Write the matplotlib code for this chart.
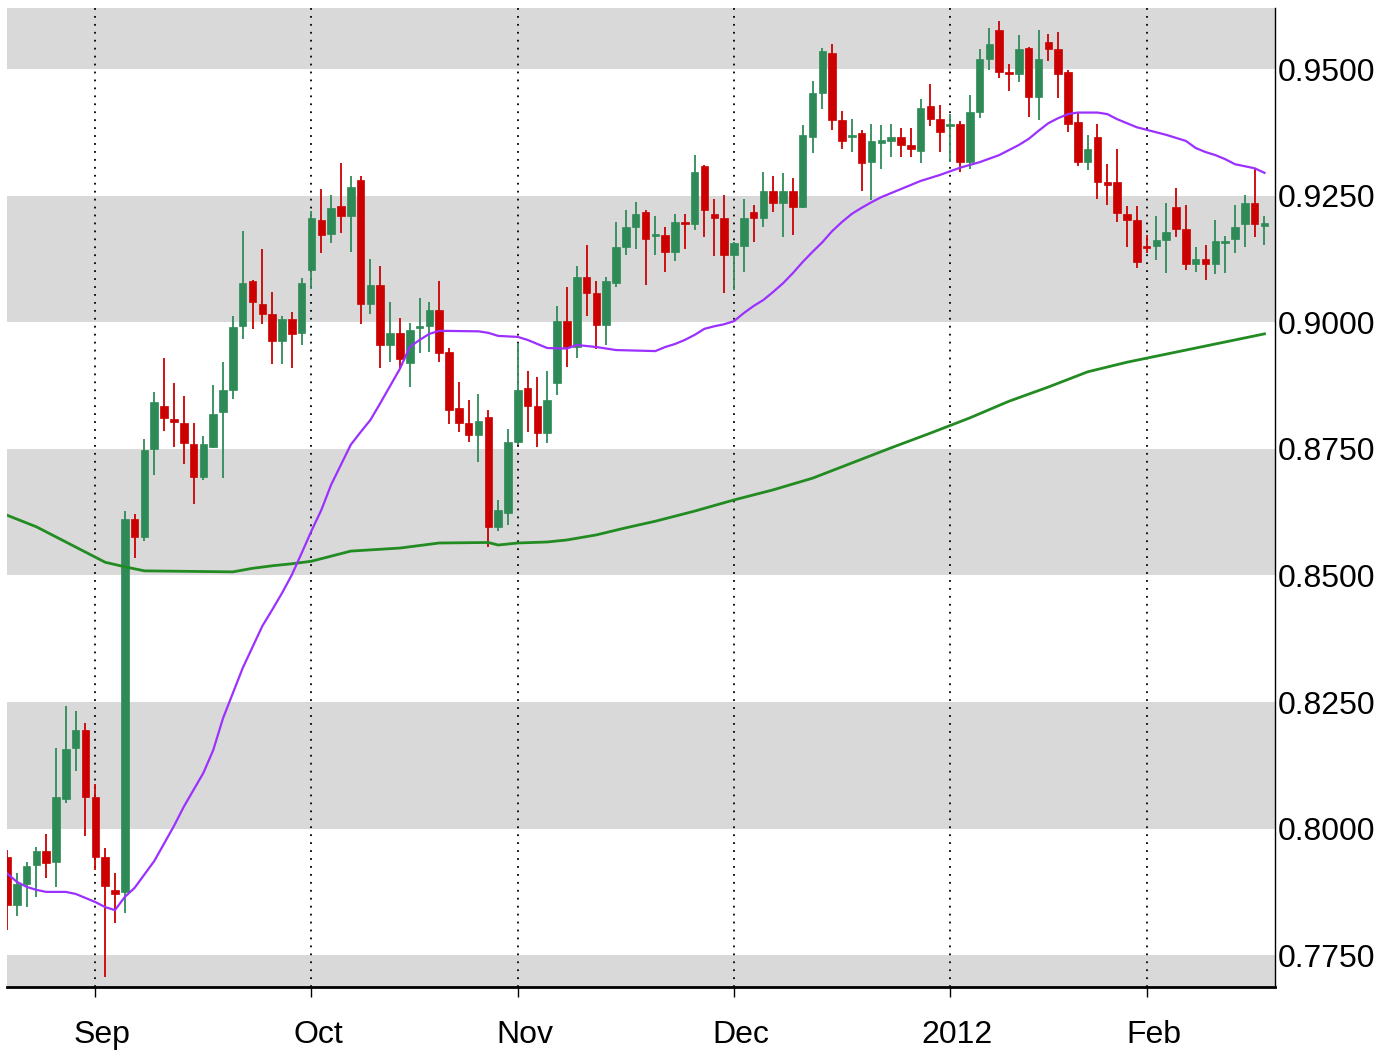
import matplotlib
matplotlib.use('Agg')
import matplotlib.pyplot as plt
import matplotlib.transforms as mtransforms
import pandas as pd

# ---------------- data ----------------
HOLIDAYS = ['2012-01-02', '2012-01-16']
DATES = [d for d in pd.bdate_range('2011-08-19', '2012-02-17')
         if d.strftime('%Y-%m-%d') not in HOLIDAYS]

OPEN = [.7944, .7849, .7891, .7928, .7956, .7934, .8058, .8159, .8195, .8062,
        .7944, .7879, .7874, .8611, .8576, .8750, .8835, .8809, .8801, .8760,
        .8694, .8754, .8823, .8867, .8993, .9081, .9036, .9016, .8963, .9007,
        .8978, .9103, .9202, .9174, .9230, .9210, .9281, .9036, .9073, .8955,
        .8978, .8919, .8988, .8993, .9024, .8941, .8830, .8801, .8777, .8813,
        .8596, .8623, .8764, .8871, .8835, .8781, .8880, .9002, .8951, .9089,
        .9057, .8994, .9078, .9148, .9188, .9218, .9170, .9172, .9139, .9197,
        .9194, .9308, .9214, .9205, .9133, .9150, .9218, .9205, .9259, .9235,
        .9259, .9228, .9366, .9453, .9531, .9399, .9366, .9374, .9316, .9354,
        .9358, .9366, .9350, .9338, .9427, .9401, .9387, .9391, .9317, .9415,
        .9519, .9577, .9495, .9490, .9541, .9445, .9553, .9539, .9495, .9395,
        .9317, .9366, .9276, .9276, .9213, .9202, .9150, .9150, .9162, .9227,
        .9185, .9115, .9124, .9115, .9157, .9164, .9193, .9235, .9190]
HIGH = [.7958, .7912, .7934, .7964, .7989, .8159, .8242, .8232, .8209, .8088,
        .7962, .7912, .8627, .8621, .8769, .8862, .8929, .8880, .8854, .8801,
        .8776, .8876, .8921, .9012, .9180, .9083, .9144, .9060, .9012, .9020,
        .9087, .9220, .9263, .9251, .9314, .9289, .9289, .9124, .9111, .9040,
        .9008, .8999, .9048, .9040, .9082, .8950, .8881, .8846, .8859, .8827,
        .8649, .8789, .8958, .8904, .8892, .8904, .9032, .9070, .9111, .9152,
        .9082, .9089, .9197, .9222, .9238, .9222, .9210, .9188, .9214, .9214,
        .9330, .9310, .9243, .9251, .9158, .9243, .9231, .9297, .9289, .9294,
        .9284, .9389, .9477, .9541, .9549, .9417, .9401, .9380, .9391, .9389,
        .9391, .9383, .9383, .9440, .9470, .9429, .9411, .9397, .9449, .9539,
        .9581, .9595, .9509, .9567, .9544, .9577, .9569, .9573, .9499, .9415,
        .9370, .9391, .9312, .9342, .9230, .9230, .9172, .9210, .9235, .9265,
        .9231, .9149, .9152, .9202, .9170, .9231, .9251, .9302, .9210]
LOW = [.7800, .7827, .7845, .7865, .7902, .7885, .8051, .8114, .7985, .7918,
       .7707, .7814, .7833, .8534, .8568, .8698, .8785, .8753, .8720, .8641,
       .8688, .8752, .8692, .8848, .8967, .8987, .8996, .8917, .8917, .8909,
       .8955, .9066, .9136, .9156, .9177, .9139, .8996, .9016, .8909, .8922,
       .8909, .8873, .8939, .8941, .8922, .8799, .8784, .8764, .8723, .8557,
       .8588, .8600, .8757, .8784, .8753, .8761, .8856, .8912, .8929, .9012,
       .8947, .8955, .9070, .9133, .9144, .9073, .9133, .9100, .9120, .9144,
       .9182, .9169, .9131, .9057, .9064, .9100, .9158, .9188, .9218, .9169,
       .9172, .9225, .9335, .9421, .9380, .9342, .9336, .9260, .9241, .9302,
       .9326, .9326, .9326, .9314, .9387, .9336, .9317, .9297, .9303, .9403,
       .9498, .9483, .9457, .9475, .9406, .9399, .9516, .9442, .9375, .9309,
       .9301, .9243, .9231, .9198, .9149, .9107, .9136, .9123, .9097, .9168,
       .9103, .9100, .9083, .9095, .9097, .9136, .9148, .9168, .9152]
CLOSE = [.7849, .7891, .7926, .7956, .7932, .8062, .8157, .8195, .8062, .7944,
         .7887, .7871, .8611, .8576, .8748, .8842, .8811, .8803, .8761, .8694,
         .8760, .8819, .8867, .8991, .9077, .9040, .9016, .8963, .9007, .8976,
         .9077, .9205, .9172, .9226, .9210, .9268, .9036, .9073, .8955, .8978,
         .8927, .8985, .8991, .9024, .8939, .8827, .8801, .8777, .8805, .8596,
         .8629, .8764, .8867, .8835, .8781, .8846, .9002, .8951, .9089, .9057,
         .8994, .9082, .9148, .9188, .9214, .9164, .9174, .9139, .9197, .9193,
         .9296, .9222, .9205, .9133, .9156, .9205, .9205, .9259, .9235, .9259,
         .9228, .9370, .9453, .9536, .9399, .9358, .9370, .9314, .9358, .9360,
         .9366, .9350, .9342, .9424, .9401, .9375, .9391, .9317, .9415, .9519,
         .9549, .9495, .9490, .9539, .9445, .9519, .9539, .9490, .9391, .9317,
         .9342, .9276, .9271, .9215, .9202, .9119, .9147, .9162, .9178, .9184,
         .9115, .9124, .9115, .9160, .9160, .9189, .9235, .9193, .9196]

# short moving average (purple), sampled at candle indices
MA_SHORT_IDX = [0, 1, 2, 3, 4, 6, 7, 8, 9, 10, 11, 12, 13, 15, 17, 18, 20, 21,
                22, 24, 26, 27, 28, 29, 30, 31, 32, 33, 35, 36, 37, 38, 40, 41,
                42, 43, 44, 48, 49, 50, 52, 53, 54, 55, 57, 58, 60, 62, 66, 67,
                68, 69, 70, 71, 72, 73, 74, 75, 76, 77, 78, 79, 80, 81, 82, 83,
                84, 85, 86, 87, 88, 89, 90, 91, 93, 95, 97, 99, 101, 103, 104,
                105, 106, 107, 108, 109, 111, 112, 113, 114, 115, 116, 118, 120,
                121, 122, 123, 124, 125, 126, 127, 128]
MA_SHORT = [.7912, .7895, .7885, .7879, .7875, .7875, .7871, .7863, .7855, .7845,
            .7839, .7865, .7883, .7936, .8005, .8043, .8110, .8155, .8218, .8317,
            .8400, .8432, .8465, .8501, .8544, .8588, .8629, .8679, .8758, .8783,
            .8807, .8840, .8908, .8951, .8965, .8977, .8983, .8982, .8979, .8973,
            .8971, .8965, .8957, .8949, .8948, .8955, .8951, .8945, .8943, .8951,
            .8957, .8965, .8975, .8987, .8992, .8996, .9002, .9018, .9032, .9044,
            .9060, .9077, .9097, .9119, .9139, .9158, .9180, .9198, .9214, .9226,
            .9237, .9247, .9255, .9263, .9279, .9291, .9305, .9316, .9330, .9350,
            .9362, .9378, .9393, .9403, .9411, .9414, .9414, .9411, .9401, .9393,
            .9385, .9380, .9370, .9358, .9344, .9336, .9330, .9322, .9312, .9308,
            .9304, .9295]

# long moving average (green)
MA_LONG_IDX = [0, 3, 5, 8, 10, 12, 14, 23, 25, 27, 29, 31, 33, 35, 40, 44, 49,
               50, 52, 55, 57, 60, 63, 66, 70, 74, 78, 82, 86, 90, 94, 98, 102,
               106, 110, 114, 118, 122, 126, 128]
MA_LONG = [.8619, .8596, .8576, .8546, .8526, .8517, .8509, .8507, .8514, .8519,
           .8523, .8528, .8538, .8548, .8554, .8564, .8565, .8560, .8564, .8566,
           .8570, .8580, .8594, .8607, .8627, .8649, .8669, .8692, .8722, .8752,
           .8781, .8811, .8844, .8872, .8902, .8921, .8937, .8953, .8969, .8977]

Y_TICKS = [0.775, 0.800, 0.825, 0.850, 0.875, 0.900, 0.925, 0.950]
MONTH_LABELS = {9: 'Sep', 10: 'Oct', 11: 'Nov', 12: 'Dec', 1: '2012', 2: 'Feb'}

# ---------------- styling ----------------
UP = '#2e8b57'
DOWN = '#cc0000'
BAND = '#d9d9d9'
plt.rcParams['font.family'] = ['Liberation Sans', 'DejaVu Sans']
FS = 23

W, H = 1391, 1058
fig = plt.figure(figsize=(W / 100, H / 100), dpi=100)
ax = fig.add_axes([6.7 / W, 1 - 987 / H, (1275 - 6.7) / W, (987 - 8) / H])

ax.set_ylim(0.76872, 0.96205)
ax.set_xlim(-0.02, 129.07)

# alternating grey bands
step = Y_TICKS[1] - Y_TICKS[0]
for k, t in enumerate(Y_TICKS):
    if k % 2 == 0:
        ax.axhspan(t - step, t, color=BAND, lw=0, zorder=0)
ax.axhspan(Y_TICKS[-1], Y_TICKS[-1] + step, color=BAND, lw=0, zorder=0)

# month ticks
tick_pos, tick_lab = [], []
for i, d in enumerate(DATES):
    if i > 0 and d.month != DATES[i - 1].month and d.month in MONTH_LABELS:
        tick_pos.append(i)
        tick_lab.append(MONTH_LABELS[d.month])
for p in tick_pos:
    ax.axvline(p, color='black', lw=1.3, linestyle=(0, (1, 3.4)), zorder=1)

# candles
xs = list(range(len(OPEN)))
colors = [UP if c >= o else DOWN for o, c in zip(OPEN, CLOSE)]
ax.vlines(xs, LOW, HIGH, colors=colors, lw=1.3, zorder=2)
heights = [max(abs(c - o), 0.0004) for o, c in zip(OPEN, CLOSE)]
bottoms = [min(o, c) for o, c in zip(OPEN, CLOSE)]
ax.bar(xs, heights, bottom=bottoms, width=0.77, color=colors,
       edgecolor=colors, linewidth=0.5, zorder=3)

# moving averages
ax.plot(MA_LONG_IDX, MA_LONG, color='#228b22', lw=2, zorder=4)
ax.plot(MA_SHORT_IDX, MA_SHORT, color='#9b30ff', lw=1.6, zorder=4)

# axes
for s in ['left', 'top']:
    ax.spines[s].set_visible(False)
ax.spines['bottom'].set_linewidth(2)
ax.spines['right'].set_linewidth(1)
ax.yaxis.tick_right()
ax.set_yticks(Y_TICKS)
ax.set_yticklabels(['%.4f' % t for t in Y_TICKS])
ax.tick_params(axis='y', length=0, pad=2, labelsize=FS)
ax.set_xticks(tick_pos)
ax.set_xticklabels(tick_lab)
ax.tick_params(axis='x', length=7, width=1, pad=17, labelsize=FS)
off = mtransforms.ScaledTranslation(0.07, 0, fig.dpi_scale_trans)
for lab in ax.get_xticklabels():
    lab.set_transform(lab.get_transform() + off)

fig.savefig('out.png', dpi=100)
